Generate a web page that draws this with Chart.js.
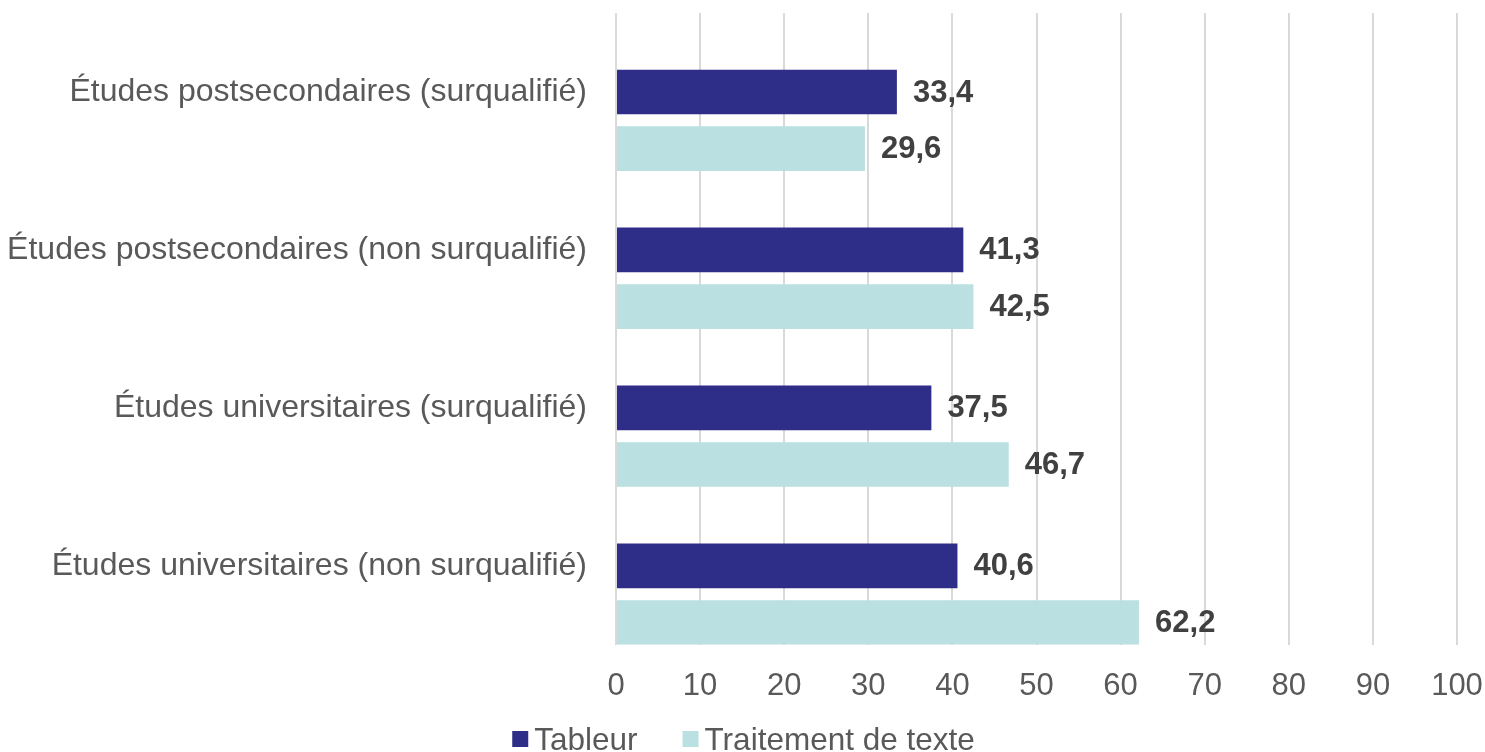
<!DOCTYPE html>
<html lang="fr">
<head>
<meta charset="utf-8">
<script src="https://cdn.jsdelivr.net/npm/chart.js@4/dist/chart.umd.min.js"></script>
<style>
  html, body { margin: 0; padding: 0; background: #fff; }
  #wrap { position: relative; width: 1485px; height: 752px; }
</style>
</head>
<body>
<div id="wrap"><canvas id="barchart"></canvas></div>
<script>
// categories and values (percent)
const categories = [
  "Études postsecondaires (surqualifié)",
  "Études postsecondaires (non surqualifié)",
  "Études universitaires (surqualifié)",
  "Études universitaires (non surqualifié)"
];
const tableur = [33.4, 41.3, 37.5, 40.6];
const traitementTexte = [29.6, 42.5, 46.7, 62.2];
const seriesNames = ["Tableur", "Traitement de texte"];
const seriesColors = ['#2e2d88', '#bae0e2'];
const xTicksMin = 0, xTicksMax = 100, xTicksStep = 10;

const fontFamily = "'Liberation Sans', Arial, sans-serif";
const frNumber = v => v.toFixed(1).replace('.', ',');

// value labels written just after the end of each bar
const valueLabels = {
  id: 'valueLabels',
  afterDatasetsDraw(chart) {
    const ctx = chart.ctx;
    ctx.save();
    ctx.font = "bold 31px " + fontFamily;
    ctx.fillStyle = '#404040';
    ctx.textBaseline = 'middle';
    ctx.textAlign = 'left';
    chart.data.datasets.forEach((ds, i) => {
      if (ds.spacer) return;
      chart.getDatasetMeta(i).data.forEach((bar, j) => {
        ctx.fillText(frNumber(ds.data[j]), bar.x + 16, bar.y + 1);
      });
    });
    ctx.restore();
  }
};

// compact legend under the axis: small square, short gap, then the name
const bottomLegend = {
  id: 'bottomLegend',
  afterDraw(chart) {
    const ctx = chart.ctx;
    const box = 16, gap = 6, itemGap = 45, baseline = 750;
    ctx.save();
    ctx.font = "31.5px " + fontFamily;
    ctx.textBaseline = 'alphabetic';
    ctx.textAlign = 'left';
    const widths = seriesNames.map(n => ctx.measureText(n).width);
    const total = widths.reduce((s, w) => s + box + gap + w, 0) + itemGap * (seriesNames.length - 1);
    let x = chart.width / 2 + 1 - total / 2;
    seriesNames.forEach((name, i) => {
      ctx.fillStyle = seriesColors[i];
      ctx.fillRect(x, baseline - 19, box, box);
      ctx.fillStyle = '#595959';
      ctx.fillText(name, x + box + gap, baseline);
      x += box + gap + widths[i] + itemGap;
    });
    ctx.restore();
  }
};

const barctx = document.getElementById('barchart').getContext('2d');
Chart.defaults.font.family = fontFamily;
Chart.defaults.color = '#595959';

let barchart = new Chart(barctx, {
  type: 'bar',
  data: {
    labels: categories,
    datasets: [{
      // empty slot above each group, keeps the dark bar level with its label
      label: '',
      spacer: true,
      data: []
    }, {
      label: seriesNames[0],
      data: tableur,
      backgroundColor: seriesColors[0],
      borderWidth: 0
    }, {
      label: seriesNames[1],
      data: traitementTexte,
      backgroundColor: seriesColors[1],
      borderWidth: 0
    }]
  },
  options: {
    indexAxis: 'y',
    responsive: true,
    maintainAspectRatio: false,
    animation: false,
    categoryPercentage: 1.076,
    barPercentage: 0.788,
    layout: { padding: { top: 13, right: 28, left: 0, bottom: 24 } },
    scales: {
      x: {
        min: xTicksMin,
        max: xTicksMax,
        ticks: { stepSize: xTicksStep, padding: 23, font: { size: 31 }, color: '#595959' },
        grid: { color: '#d9d9d9', lineWidth: 2, drawTicks: false },
        border: { display: false },
        afterFit(scale) {
          scale.paddingLeft = 0;
          scale.paddingRight = 0;
        }
      },
      y: {
        ticks: { padding: 29, font: { size: 32 }, color: '#595959' },
        grid: { display: false, drawTicks: false },
        border: { display: false },
        afterFit(scale) {
          scale.width = 616;
          scale.paddingTop = 0;
          scale.paddingBottom = 0;
        }
      }
    },
    plugins: {
      legend: { display: false },
      tooltip: { enabled: false }
    }
  },
  plugins: [valueLabels, bottomLegend]
});
</script>
</body>
</html>
